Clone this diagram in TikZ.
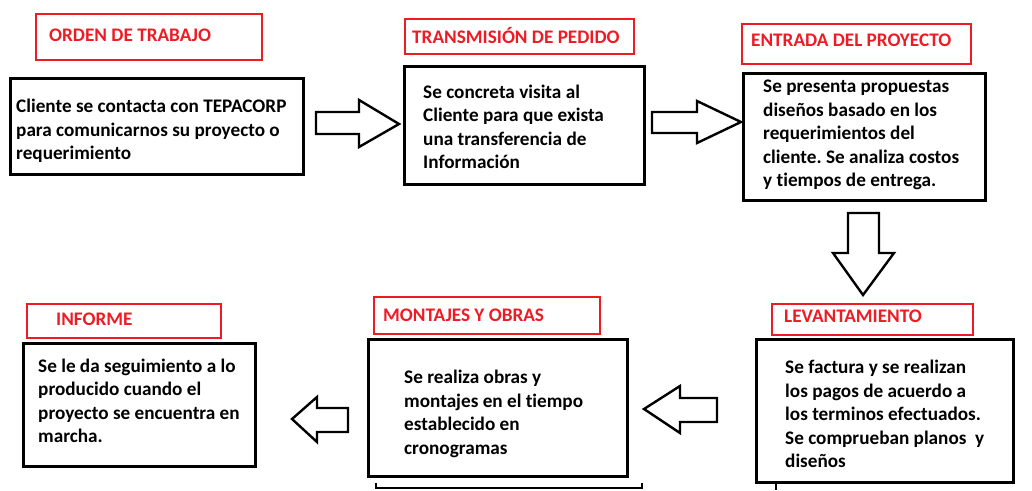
\documentclass[tikz,border=0pt]{standalone}
\usepackage{fontspec}
\setmainfont{Carlito}[Ligatures=NoCommon]
\usepackage{xcolor}
\definecolor{paintred}{RGB}{237,28,36}
\frenchspacing

\tikzset{
  titlebox/.style={draw=paintred, line width=2.4pt, anchor=north west, inner sep=0pt},
  stepbox/.style={draw=black, line width=2.6pt, anchor=north west, inner sep=0pt},
  titletext/.style={anchor=west, inner sep=0pt, text=paintred, font=\fontsize{19.2}{23.5}\selectfont\bfseries},
  bodytext/.style={anchor=west, inner sep=0pt, align=left, font=\fontsize{19.2}{23.5}\selectfont\bfseries},
  blockarrow/.style={draw=black, line width=2.4pt, line join=miter, fill=white}
}

\begin{document}
\begin{tikzpicture}[x=1pt,y=-1pt]
    \useasboundingbox (0,0) rectangle (1032,490);

                        % titulos en rojo
                        \node (r1) at (35,13) [titlebox, minimum width=226, minimum height=46] {};
                        \node (r2) at (404,18) [titlebox, minimum width=229, minimum height=35] {};
                        \node (r3) at (741,23) [titlebox, minimum width=229, minimum height=40] {};
                        \node (r4) at (771,303) [titlebox, minimum width=201, minimum height=31] {};
                        \node (r5) at (373,296) [titlebox, minimum width=226, minimum height=37] {};
                        \node (r6) at (26,303) [titlebox, minimum width=194, minimum height=34] {};
                        \node (l1) at (49,35) [titletext] {ORDEN DE TRABAJO};
                        \node (l2) at (412,36) [titletext] {TRANSMISIÓN DE PEDIDO};
                        \node (l3) at (751,40) [titletext] {ENTRADA DEL PROYECTO};
                        \node (l4) at (784,316) [titletext] {LEVANTAMIENTO};
                        \node (l5) at (383,315) [titletext] {MONTAJES Y OBRAS};
                        \node (l6) at (56,319) [titletext] {INFORME};

                        % cajas de los pasos
                        \node (b1) at (9,77) [stepbox, minimum width=293, minimum height=96] {};
                        \node (b2) at (403,65) [stepbox, minimum width=240, minimum height=118] {};
                        \node (b3) at (742,72) [stepbox, minimum width=242, minimum height=127] {};
                        \node (b4) at (755,338) [stepbox, minimum width=257, minimum height=143] {};
                        \node (b5) at (367,338) [stepbox, minimum width=259, minimum height=137] {};
                        \node (b6) at (22,342) [stepbox, minimum width=232, minimum height=123] {};
                        \node (t1) at (16,131) [bodytext] {Cliente se contacta con TEPACORP\\para comunicarnos su proyecto o\\requerimiento};
                        \node (t2) at (423,127) [bodytext] {Se concreta visita al\\Cliente para que exista\\una transferencia de\\Información};
                        \node (t3) at (763,135) [bodytext] {Se presenta propuestas\\diseños basado en los\\requerimientos del\\cliente. Se analiza costos\\y tiempos de entrega.};
                        \node (t4) at (785,414) [bodytext] {Se factura y se realizan\\los pagos de acuerdo a\\los terminos efectuados.\\Se comprueban planos~ y\\diseños};
                        \node (t5) at (404,414) [bodytext] {Se realiza obras y\\montajes en el tiempo\\establecido en\\cronogramas};
                        \node (t6) at (38,401) [bodytext] {Se le da seguimiento a lo\\producido cuando el\\proyecto se encuentra en\\marcha.};

                    % flechas de bloque
                    \draw [blockarrow] (316,112) -- (359,112) -- (359,100) -- (399,124) -- (359,147) -- (359,134) -- (316,134) -- cycle;
                    \draw [blockarrow] (652,112) -- (697,112) -- (697,101) -- (741,122) -- (697,143) -- (697,133) -- (652,133) -- cycle;
                    \draw [blockarrow] (848,213) -- (879,213) -- (879,253) -- (894,253) -- (863,295) -- (833,253) -- (848,253) -- cycle;
                    \draw [blockarrow] (717,398) -- (680,398) -- (680,386) -- (644,409) -- (680,433) -- (680,422) -- (717,422) -- cycle;
                    \draw [blockarrow] (348,408) -- (317,408) -- (317,397) -- (292,419) -- (317,442) -- (317,432) -- (348,432) -- cycle;

                        % trazos sueltos abajo
                        \draw [line width=2.4pt] (376,483) -- (376,488) -- (642,488) -- (642,483);
                        \draw [line width=2.4pt] (776,483) -- (776,490);

\end{tikzpicture}
\end{document}
